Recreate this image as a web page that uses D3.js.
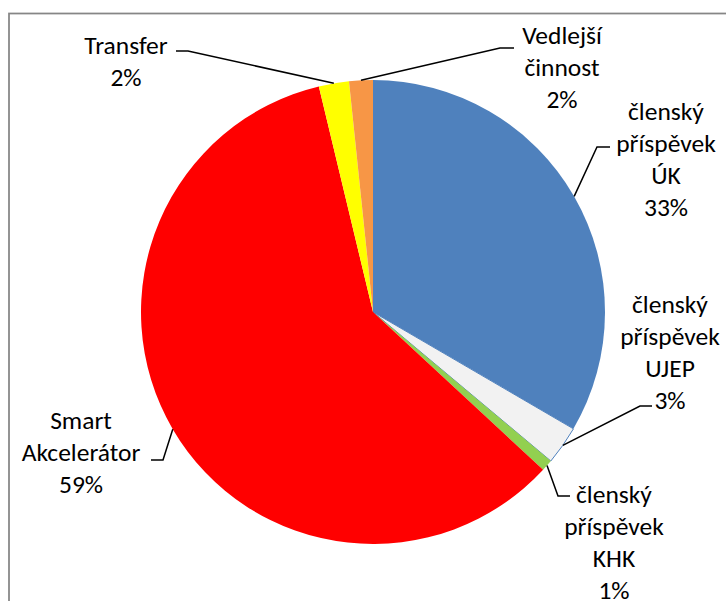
<!DOCTYPE html>
<html>
<head>
<meta charset="utf-8">
<script src="https://cdn.jsdelivr.net/npm/d3@7"></script>
<style>
  body { margin: 0; background: #fff; }
  svg text { font-family: Carlito, Calibri, Lato, "Open Sans", sans-serif; font-size: 25.5px; fill: #000; }
</style>
</head>
<body>
<div class="piechart" data-width="726" data-height="601"></div>
<script>
// data
var categories = ['členský příspěvek ÚK', 'členský příspěvek UJEP', 'členský příspěvek KHK',
                  'Smart Akcelerátor', 'Transfer', 'Vedlejší činnost'];
var shares = [33.4, 2.7, 0.8, 59.35, 2.1, 1.65];
var labelLines = [
    ['členský', 'příspěvek', 'ÚK'],
    ['členský', 'příspěvek', 'UJEP'],
    ['členský', 'příspěvek', 'KHK'],
    ['Smart', 'Akcelerátor'],
    ['Transfer'],
    ['Vedlejší', 'činnost']
];
var colors = ['#4f81bd', '#f2f2f2', '#92d050', '#ff0000', '#ffff00', '#f79646'];

// where the labels sit (first line centre), leader elbow and end of the short tick
var labelLayout = [
    {x: 666, y: 111, ex: 597, ey: 147, hx: 610},
    {x: 670, y: 304, ex: 640, ey: 406, hx: 652},
    {x: 614, y: 494, ex: 558, ey: 496, hx: 570},
    {x: 81,  y: 420, ex: 163, ey: 460, hx: 151},
    {x: 126, y: 45,  ex: 188, ey: 51,  hx: 176},
    {x: 562, y: 35,  ex: 500, ey: 48,  hx: 514}
];

var $this = d3.select('.piechart');
var width = +$this.attr('data-width'),
    height = +$this.attr('data-height');

var cx = 373, cy = 312, radius = 232, lineH = 32;

var svg = $this.append('svg')
    .attr('width', width)
    .attr('height', height);

// chart frame
svg.append('rect')
    .attr('x', 9).attr('y', 13.5)
    .attr('width', width + 20).attr('height', height + 20)
    .attr('fill', 'none')
    .attr('stroke', '#868686')
    .attr('stroke-width', 1.75);

var data = categories.map(function(c, i) {
    return {name: c, value: shares[i], lines: labelLines[i], color: colors[i], pos: labelLayout[i]};
});

var total = d3.sum(shares);

var pie = d3.pie()
    .sort(null)
    .value(function(d) { return d.value; });

var arc = d3.arc()
    .innerRadius(0)
    .outerRadius(radius);

var g = svg.append('g')
    .attr('transform', 'translate(' + cx + ',' + cy + ')');

var arcs = pie(data);

g.selectAll('path.slice')
    .data(arcs)
    .enter().append('path')
    .attr('class', 'slice')
    .attr('d', arc)
    .attr('fill', function(d) { return d.data.color; })
    .attr('stroke', function(d, i) { return i == 1 ? '#4f81bd' : 'none'; })
    .attr('stroke-width', 1);

// leader lines
svg.selectAll('polyline.leader')
    .data(arcs)
    .enter().append('polyline')
    .attr('class', 'leader')
    .attr('fill', 'none')
    .attr('stroke', '#000')
    .attr('stroke-width', 1.5)
    .attr('points', function(d) {
        var a = (d.startAngle + d.endAngle) / 2;
        var px = cx + radius * Math.sin(a),
            py = cy - radius * Math.cos(a);
        var p = d.data.pos;
        return [[px, py], [p.ex, p.ey], [p.hx, p.ey]].join(' ');
    });

// labels
var labels = svg.selectAll('text.label')
    .data(arcs)
    .enter().append('text')
    .attr('class', 'label')
    .attr('text-anchor', 'middle')
    .attr('dominant-baseline', 'central');

labels.each(function(d) {
    var t = d3.select(this);
    var lines = d.data.lines.concat([Math.round(d.data.value / total * 100) + '%']);
    lines.forEach(function(l, i) {
        t.append('tspan')
            .attr('x', d.data.pos.x)
            .attr('y', d.data.pos.y + i * lineH)
            .text(l);
    });
});
</script>
</body>
</html>
